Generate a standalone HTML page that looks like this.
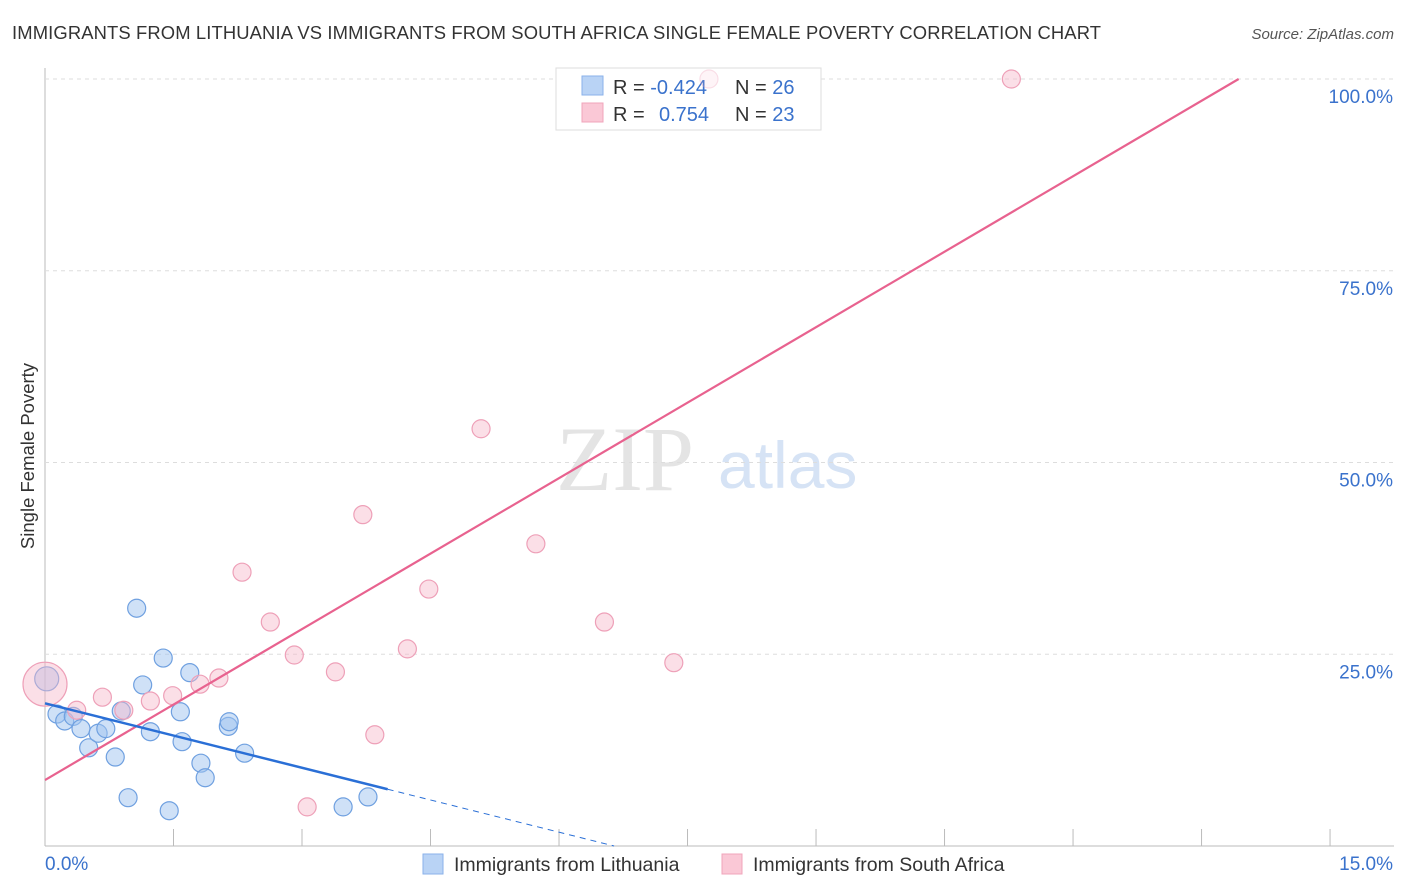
<!DOCTYPE html>
<html><head><meta charset="utf-8"><style>
body{margin:0;background:#fff;font-family:"Liberation Sans",sans-serif;}
#wrap{position:relative;width:1406px;height:892px;overflow:hidden;}
</style></head><body>
<div id="wrap">
<svg id="svg" width="1406" height="892" xmlns="http://www.w3.org/2000/svg">
<text x="12" y="39" font-size="18.4" fill="#333" textLength="1089">IMMIGRANTS FROM LITHUANIA VS IMMIGRANTS FROM SOUTH AFRICA SINGLE FEMALE POVERTY CORRELATION CHART</text>
<text x="1394" y="39" font-size="15" fill="#555" font-style="italic" text-anchor="end">Source: ZipAtlas.com</text>
<text x="34" y="456" font-size="18.5" fill="#333" text-anchor="middle" transform="rotate(-90 34 456)">Single Female Poverty</text>
<text x="556" y="490" font-size="92" fill="#e4e4e4" font-family="Liberation Serif,serif">ZIP</text>
<text x="718" y="488" font-size="66" fill="#d6e3f5">atlas</text>
<g id="grid"></g>
<g>
<rect x="556" y="68" width="265" height="62" fill="#fff" stroke="#ddd"/>
<rect x="582" y="76" width="21" height="19" fill="#b9d3f5" stroke="#8ab2ea"/>
<rect x="582" y="103" width="21" height="19" fill="#fac8d6" stroke="#f0a5bb"/>
<text x="613" y="94" font-size="20" fill="#333">R = <tspan fill="#3a72cc">-0.424</tspan></text>
<text x="735" y="94" font-size="20" fill="#333">N = <tspan fill="#3a72cc">26</tspan></text>
<text x="613" y="121" font-size="20" fill="#333">R = <tspan fill="#3a72cc" x="659">0.754</tspan></text>
<text x="735" y="121" font-size="20" fill="#333">N = <tspan fill="#3a72cc">23</tspan></text>
</g>
<g id="marks"></g>
<g>
<rect x="423" y="854" width="20" height="20" fill="#b9d3f5" stroke="#8ab2ea"/>
<text x="454" y="871" font-size="19.5" fill="#333">Immigrants from Lithuania</text>
<rect x="722" y="854" width="20" height="20" fill="#fac8d6" stroke="#f0a5bb"/>
<text x="753" y="871" font-size="19.5" fill="#333">Immigrants from South Africa</text>
</g>
</svg>
</div>
<script>
const xTicks=[0,1.5,3,4.5,6,7.5,9,10.5,12,13.5,15];
const yTicks=[25,50,75,100];
const yTickLabels=["25.0%","50.0%","75.0%","100.0%"];
const xEndLabels=["0.0%","15.0%"];
const blueX=[0.02,0.14,0.23,0.33,0.42,0.51,0.62,0.71,0.82,0.89,0.97,1.07,1.14,1.23,1.38,1.58,1.60,1.69,1.82,1.87,2.14,2.15,2.33,3.48,3.77,1.45];
const blueY=[21.8,17.2,16.3,16.9,15.3,12.8,14.7,15.3,11.6,17.6,6.3,31.0,21.0,14.9,24.5,17.5,13.6,22.6,10.8,8.9,15.6,16.2,12.1,5.1,6.4,4.6];
const pinkX=[0.0,0.37,0.67,0.92,1.23,1.49,1.81,2.03,2.30,2.63,2.91,3.06,3.39,3.71,3.85,4.23,4.48,5.09,5.73,6.53,7.34,7.75,11.28];
const pinkY=[21.1,17.7,19.4,17.7,18.9,19.6,21.1,21.9,35.7,29.2,24.9,5.1,22.7,43.2,14.5,25.7,33.5,54.4,39.4,29.2,23.9,100,100];
const pinkTrend=[8.6,6.56];
const blueTrend=[18.6,-2.8];
const X=v=>45+v*85.67, Y=v=>846-v*7.67;
const NS="http://www.w3.org/2000/svg";
const grid=document.getElementById('grid'), marks=document.getElementById('marks');
function mk(tag,at,parent){const e=document.createElementNS(NS,tag);for(const k in at)e.setAttribute(k,at[k]);parent.appendChild(e);return e;}
let ax=mk('line',{x1:45,y1:68,x2:45,y2:846,stroke:'#bbb'},grid);


let bx=mk('line',{x1:45,y1:846,x2:1394,y2:846,stroke:'#bbb'},grid);


xTicks.forEach(t=>{let l=mk('line',{x1:X(t),y1:829,x2:X(t),y2:846,stroke:'#bbb'},grid);

});
yTicks.forEach((t,i)=>{let l=mk('line',{x1:45,y1:Y(t),x2:1394,y2:Y(t),stroke:'#ddd','stroke-dasharray':'4,4'},grid);


let tx=mk('text',{x:1393,y:Y(t)+24,'font-size':19,fill:'#3a72cc','text-anchor':'end'},grid);tx.textContent=yTickLabels[i];

});
let a=mk('text',{x:45,y:870,'font-size':19,fill:'#3a72cc'},grid);a.textContent=xEndLabels[0];


let b=mk('text',{x:1393,y:870,'font-size':19,fill:'#3a72cc','text-anchor':'end'},grid);b.textContent=xEndLabels[1];


blueX.forEach((x,i)=>{let c=mk('circle',{cx:X(x),cy:Y(blueY[i]),r:i==0?12:9,fill:'rgba(160,196,240,0.5)',stroke:'#6fa0e0','stroke-width':1.2},marks);

});
pinkX.forEach((x,i)=>{let c=mk('circle',{cx:X(x),cy:Y(pinkY[i]),r:i==0?22:9,fill:'rgba(247,184,202,0.45)',stroke:'#eea0b8','stroke-width':1.2,opacity:i==21?0.35:1},marks);

});
const pxEnd=(100-pinkTrend[0])/pinkTrend[1];
let pl=mk('line',{x1:X(0),y1:Y(pinkTrend[0]),x2:X(pxEnd),y2:Y(100),stroke:'#e8628f','stroke-width':2.2},marks);


const bSolid=4.0, bZero=-blueTrend[0]/blueTrend[1];
let bl=mk('line',{x1:X(0),y1:Y(blueTrend[0]),x2:X(bSolid),y2:Y(blueTrend[0]+blueTrend[1]*bSolid),stroke:'#2a6fd6','stroke-width':2.5},marks);


let bd=mk('line',{x1:X(bSolid),y1:Y(blueTrend[0]+blueTrend[1]*bSolid),x2:X(bZero),y2:Y(0),stroke:'#2a6fd6','stroke-width':1,'stroke-dasharray':'6,5'},marks);


</script>
</body></html>
